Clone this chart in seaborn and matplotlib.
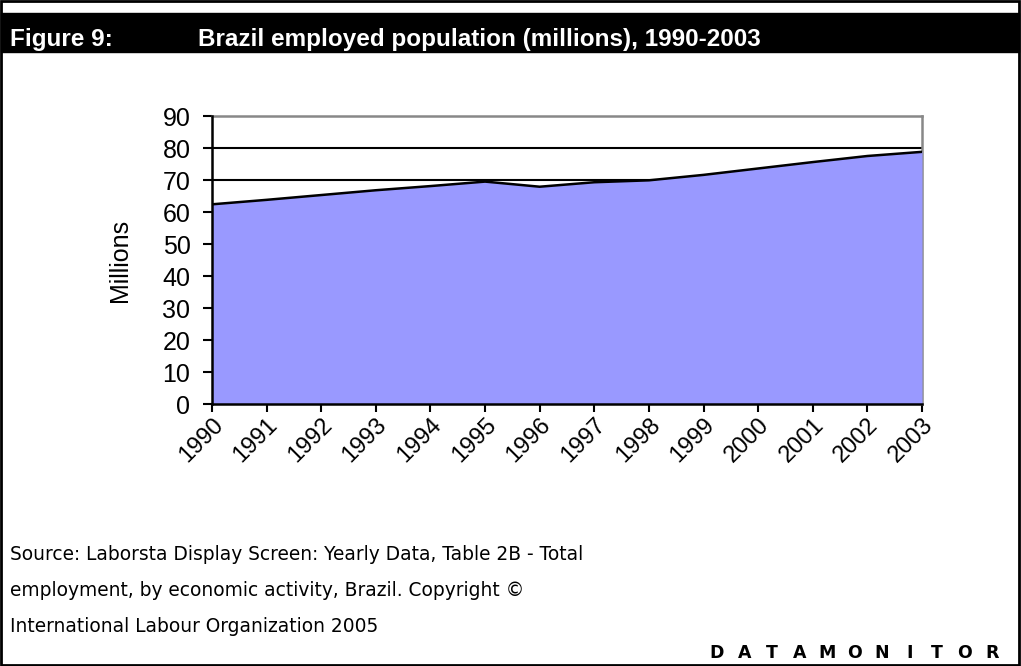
import matplotlib
matplotlib.use("Agg")
import matplotlib.pyplot as plt
import matplotlib.transforms as mtransforms
import seaborn as sns
import pandas as pd
from matplotlib.patches import Rectangle

years = [1990, 1991, 1992, 1993, 1994, 1995, 1996, 1997, 1998, 1999, 2000, 2001, 2002, 2003]
employed = [62.4, 63.8, 65.3, 66.8, 68.1, 69.5, 67.9, 69.3, 69.9, 71.6, 73.6, 75.6, 77.5, 78.8]
y_ticks = [0, 10, 20, 30, 40, 50, 60, 70, 80, 90]

title_num = "Figure 9:"
title_text = "Brazil employed population (millions), 1990-2003"
source_lines = [
    "Source: Laborsta Display Screen: Yearly Data, Table 2B - Total",
    "employment, by economic activity, Brazil. Copyright \u00a9",
    "International Labour Organization 2005",
]
brand = "DATAMONITOR"

sns.set_style("white")
plt.rcParams['font.family'] = ['Liberation Sans', 'DejaVu Sans']
plt.rcParams['text.color'] = 'black'
plt.rcParams['xtick.color'] = 'black'
plt.rcParams['ytick.color'] = 'black'
plt.rcParams['axes.labelcolor'] = 'black'

W, H = 1021, 666
fig = plt.figure(figsize=(W / 100, H / 100), dpi=100)
fig.patch.set_facecolor("white")

def fx(px):
    return px / W

def fy(py):
    return 1 - py / H

# Outer frame
fig.patches.append(Rectangle((fx(1), fy(665)), fx(1018), 664 / H, transform=fig.transFigure,
                             fill=False, edgecolor="black", linewidth=2))
# Title bar
fig.patches.append(Rectangle((fx(1), fy(52)), fx(1018), 39 / H, transform=fig.transFigure,
                             facecolor="black", edgecolor="black"))
fig.text(fx(10), fy(46), title_num, color="white", fontsize=17.5, fontweight="bold",
         va="baseline", ha="left")
fig.text(fx(198), fy(46), title_text, color="white", fontsize=17.5, fontweight="bold",
         va="baseline", ha="left")

ax = fig.add_axes([fx(212), fy(404), fx(922) - fx(212), (404 - 116) / H])
df = pd.DataFrame({"Year": years, "Millions": employed})

ax.fill_between(df["Year"], 0, df["Millions"], color="#9999FF", zorder=3, linewidth=0)
sns.lineplot(data=df, x="Year", y="Millions", ax=ax, color="black", linewidth=1.8, zorder=4)

for v in y_ticks[1:-1]:
    ax.axhline(v, color="black", linewidth=1.5, zorder=1)

ax.set_xlim(years[0], years[-1])
ax.set_ylim(0, 90)
ax.set_yticks(y_ticks)
ax.set_xticks(years)
ax.set_xticklabels([str(y) for y in years], rotation=45, ha="right", rotation_mode="anchor",
                   fontsize=17)
offset = mtransforms.ScaledTranslation(15 / 100, 0, fig.dpi_scale_trans)
for lab in ax.get_xticklabels():
    lab.set_transform(lab.get_transform() + offset)
ax.tick_params(axis="y", labelsize=18, direction="out", length=6.5, width=1.5,
               left=True, pad=9)
ax.tick_params(axis="x", direction="out", length=6, width=1.5, bottom=True, pad=1)
ax.set_xlabel("")
ax.set_ylabel("Millions", fontsize=18, labelpad=22)

for s in ["left", "bottom"]:
    ax.spines[s].set_color("black")
    ax.spines[s].set_linewidth(1.8)
    ax.spines[s].set_zorder(5)
for s in ["top", "right"]:
    ax.spines[s].set_visible(True)
    ax.spines[s].set_color("#888888")
    ax.spines[s].set_linewidth(1.8)

# Footer
for i, line in enumerate(source_lines):
    fig.text(fx(10), fy(554 + 36 * i), line, fontsize=13.4, family=["DejaVu Sans"],
             va="center", ha="left")
n = len(brand)
x0, x1 = 717, 992
for i, ch in enumerate(brand):
    fig.text(fx(x0 + (x1 - x0) * i / (n - 1)), fy(653), ch, fontsize=12.5, fontweight="bold",
             family=["DejaVu Sans"], va="center", ha="center")

fig.savefig("out.png", dpi=100)
